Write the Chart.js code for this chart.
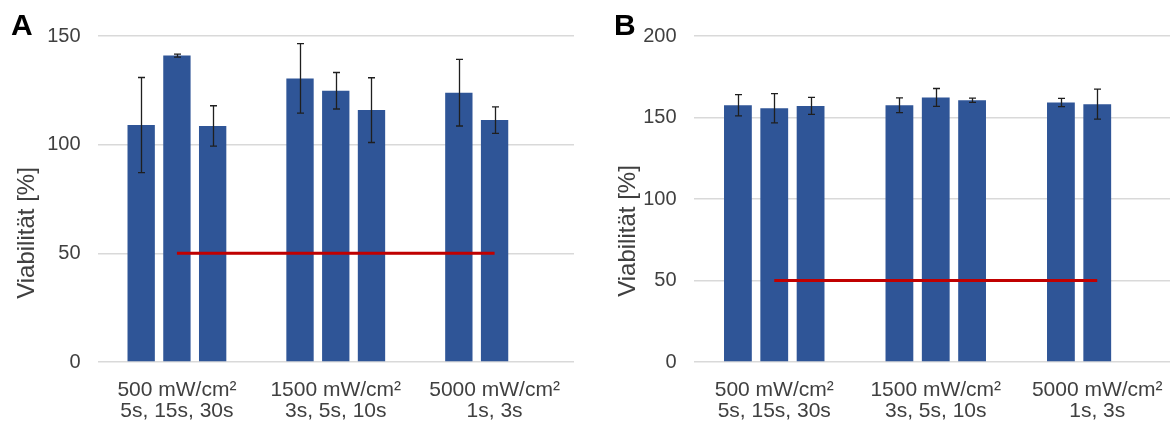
<!DOCTYPE html>
<html>
<head>
<meta charset="utf-8">
<script src="https://cdn.jsdelivr.net/npm/chart.js@4.4.1/dist/chart.umd.min.js"></script>
<style>
  html, body { margin: 0; padding: 0; background: #fff; }
  body { width: 1170px; height: 421px; overflow: hidden; position: relative; font-family: "Liberation Sans", Arial, sans-serif; }
  .panel { position: absolute; top: 0; }
  .letter { position: absolute; font-weight: bold; font-size: 30px; color: #000; line-height: 1; }
  .ytitle { position: absolute; font-size: 24px; color: #404040; white-space: nowrap; line-height: 1; transform: translate(-50%, -50%) rotate(-90deg); }
</style>
</head>
<body>
<canvas id="chartA" class="panel" width="590" height="421" style="left:0px"></canvas>
<canvas id="chartB" class="panel" width="610" height="421" style="left:590px"></canvas>
<div class="letter" style="left:11px; top:10px">A</div>
<div class="letter" style="left:614px; top:10px">B</div>
<div class="ytitle" style="left:26px; top:233px">Viabilität [%]</div>
<div class="ytitle" style="left:627px; top:231px">Viabilität [%]</div>
<script>
// Irradiance groups with their exposure times
const categories = [
  ['500 mW/cm²', '5s, 15s, 30s'],
  ['1500 mW/cm²', '3s, 5s, 10s'],
  ['5000 mW/cm²', '1s, 3s']
];

// Panel A: viability per exposure (1st, 2nd, 3rd time of each group) with SD
const aShort = [109, 130.5, 123.9];
const aShortErr = [21.9, 16, 15.3];
const aMid = [141, 124.8, 111.3];
const aMidErr = [0.7, 8.4, 6.1];
const aLong = [108.6, 115.9, null];
const aLongErr = [9.3, 14.9, null];

// Panel B
const bShort = [157.5, 157.5, 159.2];
const bShortErr = [6.5, 4.5, 2.5];
const bMid = [155.7, 162.3, 158.2];
const bMidErr = [9, 5.5, 9.2];
const bLong = [157.1, 160.6, null];
const bLongErr = [5.2, 1.3, null];

// 50 % viability threshold
const threshold = [50, 50, 50];

const yTicksA = { max: 150, step: 50 };
const yTicksB = { max: 200, step: 50 };

const BAR_COLOR = '#2F5597';
const TEXT_COLOR = '#404040';
const FONT = '"Liberation Sans", Arial, sans-serif';

// Draws symmetric error bars on top of the bar datasets
const errorBars = {
  id: 'errorBars',
  afterDatasetsDraw(chart) {
    const ctx = chart.ctx;
    const yScale = chart.scales.y;
    ctx.save();
    ctx.strokeStyle = '#1f1f1f';
    ctx.lineWidth = 1.3;
    chart.data.datasets.forEach((ds, i) => {
      if (!ds.errors) return;
      const meta = chart.getDatasetMeta(i);
      meta.data.forEach((bar, j) => {
        const v = ds.data[j];
        const e = ds.errors[j];
        if (v == null || e == null) return;
        const x = Math.round(bar.x) + 0.5;
        const yTop = yScale.getPixelForValue(v + e);
        const yBot = yScale.getPixelForValue(v - e);
        ctx.beginPath();
        ctx.moveTo(x, yTop); ctx.lineTo(x, yBot);
        ctx.moveTo(x - 3.5, yTop); ctx.lineTo(x + 3.5, yTop);
        ctx.moveTo(x - 3.5, yBot); ctx.lineTo(x + 3.5, yBot);
        ctx.stroke();
      });
    });
    ctx.restore();
  }
};

function makeChart(id, series, errors, ticks, axisWidth, rightPad) {
  const barDs = series.map((data, k) => ({
    type: 'bar',
    data: data,
    errors: errors[k],
    backgroundColor: BAR_COLOR,
    borderWidth: 0,
    categoryPercentage: 0.675,
    barPercentage: 0.765,
    order: 1
  }));
  const lineDs = {
    type: 'line',
    data: threshold,
    borderColor: '#C00000',
    borderWidth: 3,
    pointRadius: 0,
    fill: false,
    order: 0
  };
  return new Chart(document.getElementById(id), {
    data: { labels: categories, datasets: [...barDs, lineDs] },
    options: {
      responsive: false,
      animation: false,
      plugins: { legend: { display: false }, tooltip: { enabled: false } },
      layout: { padding: { top: 36, right: rightPad, bottom: 0, left: 0 } },
      scales: {
        x: {
          grid: { display: false, drawTicks: false },
          border: { display: false },
          ticks: {
            color: TEXT_COLOR,
            font: { family: FONT, size: 21, lineHeight: 0.98 },
            padding: 18,
            maxRotation: 0,
            autoSkip: false
          },
          afterFit(scale) { scale.height = 59; }
        },
        y: {
          min: 0,
          max: ticks.max,
          grid: { color: '#D9D9D9', lineWidth: 1.5, drawTicks: false },
          border: { display: false },
          ticks: {
            stepSize: ticks.step,
            color: TEXT_COLOR,
            font: { family: FONT, size: 20 },
            padding: 17
          },
          afterFit(scale) { scale.width = axisWidth; }
        }
      }
    },
    plugins: [errorBars]
  });
}

makeChart('chartA', [aShort, aMid, aLong], [aShortErr, aMidErr, aLongErr], yTicksA, 97.5, 16);
makeChart('chartB', [bShort, bMid, bLong], [bShortErr, bMidErr, bLongErr], yTicksB, 103.5, 22);
</script>
</body>
</html>
